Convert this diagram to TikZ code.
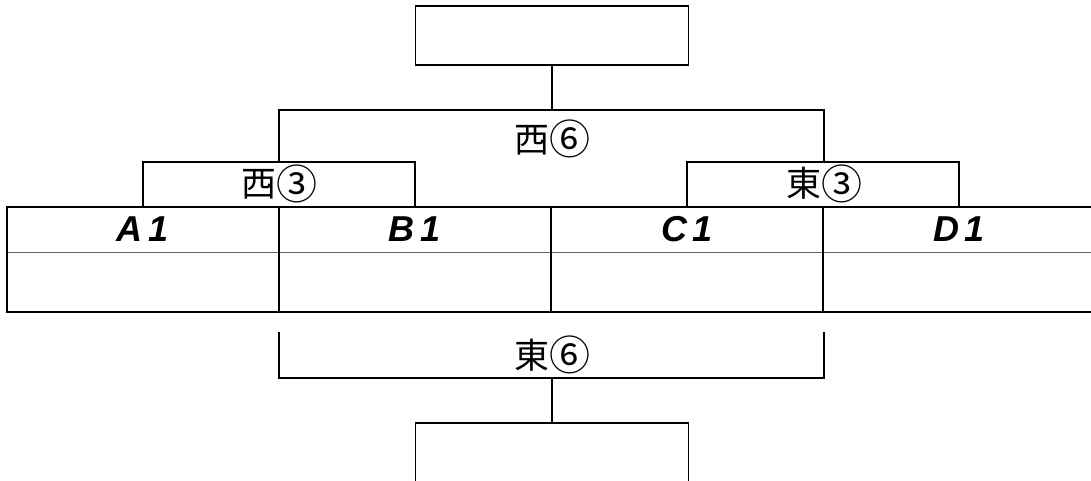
\documentclass[tikz,border=0pt]{standalone}
\usepackage{fontspec}
\setmainfont{Liberation Sans}
\newfontfamily\cjk{Noto Sans CJK JP}
\newcommand{\circnum}[1]{\raisebox{-0.07em}{\fontsize{41}{41}\selectfont #1}}
\begin{document}
\begin{tikzpicture}[x=1pt,y=-1pt,
  thick line/.style={line width=1.8pt, draw=black},
  thin line/.style={line width=0.9pt, draw=black!60},
  box/.style={thick line, minimum width=273pt, minimum height=59pt, inner sep=0pt},
  lab/.style={font=\cjk\fontsize{35}{35}\selectfont, inner sep=0pt},
  cell/.style={minimum width=272pt, minimum height=45pt, inner sep=0pt,
               font=\fontsize{36}{36}\selectfont\bfseries\itshape},
  lowcell/.style={minimum width=272pt, minimum height=59pt, inner sep=0pt}]
\useasboundingbox (0,0) rectangle (1091,481);
\fill[white] (0,0) rectangle (1091,481);
\clip (0,0) rectangle (1091,481);

% top and bottom boxes
\node[box] (top) at (552,35.5) {};
\node[box, minimum height=120pt] (bot) at (552,483) {};

% table cells
\node[cell] (A) at (143,229.5) {A\,1};
\node[cell] (B) at (415,229.5) {B\,1};
\node[cell] (C) at (687,229.5) {C\,1};
\node[cell] (D) at (959,229.5) {D\,1};
\node[lowcell] (a) at (143,282) {};
\node[lowcell] (b) at (415,282) {};
\node[lowcell] (c) at (687,282) {};
\node[lowcell] (d) at (959,282) {};

% table lines
\draw[thin line] (A.south west) -- (D.south east);
\draw[thick line] (A.north west) rectangle (d.south east);
\draw[thick line] (A.north east) -- (a.south east);
\draw[thick line] (B.north east) -- (b.south east);
\draw[thick line] (C.north east) -- (c.south east);

% labels
\node[lab] (w6) at (552,139) {西\circnum{⑥}};
\node[lab] (w3) at (279,183.5) {西\circnum{③}};
\node[lab] (e3) at (824,183.5) {東\circnum{③}};
\node[lab] (e6) at (552,355) {東\circnum{⑥}};

% brackets
\coordinate (w3top) at (279,162);
\coordinate (e3top) at (824,162);
\coordinate (j6) at (552,110);
\draw[thick line] (A.north) -- ++(0,-45) -| (B.north);
\draw[thick line] (C.north) -- ++(0,-45) -| (D.north);
\draw[thick line] (w3top) -- ++(0,-52) -| (e3top);
\draw[thick line] (top.south) -- (j6);

\coordinate (bl) at (279,332);
\coordinate (br) at (824,332);
\coordinate (j7) at (552,378);
\draw[thick line] (bl) -- ++(0,46) -| (br);
\draw[thick line] (j7) -- (bot.north);
\end{tikzpicture}
\end{document}
